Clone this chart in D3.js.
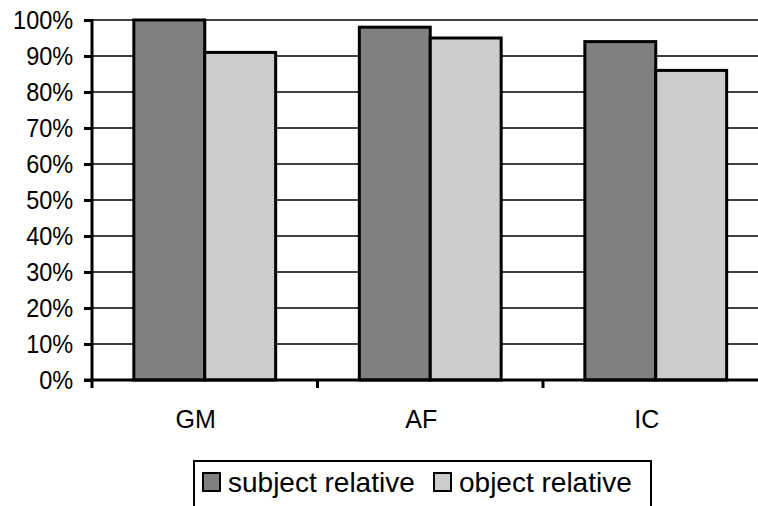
<!DOCTYPE html>
<html>
<head>
<meta charset="UTF-8">
<title>Relative clauses</title>
<script src="https://cdnjs.cloudflare.com/ajax/libs/d3/7.8.5/d3.min.js"></script>
<style>
  body { margin: 0; background: #fff; }
  text { font-family: "Liberation Sans", Arial, sans-serif; fill: #000; }
</style>
</head>
<body>
<svg id="chart" width="758" height="506"></svg>
<script>
// data
var categories = ["GM", "AF", "IC"];
var seriesNames = ["subject relative", "object relative"];
var subjectValues = [100, 98, 94];
var objectValues = [91, 95, 86];
var yTicks = [0, 10, 20, 30, 40, 50, 60, 70, 80, 90, 100];
var colors = ["#808080", "#cccccc"];

var svg = d3.select("#chart");
var plotLeft = 92, plotRight = 768.5, plotTop = 20, plotBottom = 380;

var x0 = d3.scaleBand().domain(categories).range([plotLeft, plotRight]);
var x1 = d3.scaleBand().domain(seriesNames)
        .range([0, x0.bandwidth()])
        .paddingInner(0).paddingOuter(0.59);
var y = d3.scaleLinear().domain([0, 100]).range([plotBottom, plotTop]);

var rows = categories.map(function (c, i) {
    return {cat: c, vals: [subjectValues[i], objectValues[i]]};
});

// gridlines
svg.append("g").selectAll("line")
    .data(yTicks.filter(function (d) { return d > 0; }))
    .enter().append("line")
    .attr("x1", plotLeft).attr("x2", 758)
    .attr("y1", function (d) { return y(d); })
    .attr("y2", function (d) { return y(d); })
    .attr("stroke", "#000").attr("stroke-width", 1.5);

// bars
var groups = svg.append("g").selectAll("g")
    .data(rows).enter().append("g")
    .attr("transform", function (d) { return "translate(" + x0(d.cat) + ",0)"; });

groups.selectAll("rect")
    .data(function (d) {
        return d.vals.map(function (v, i) { return {name: seriesNames[i], v: v, i: i}; });
    })
    .enter().append("rect")
    .attr("x", function (d) { return x1(d.name); })
    .attr("y", function (d) { return y(d.v); })
    .attr("width", x1.bandwidth())
    .attr("height", function (d) { return y(0) - y(d.v); })
    .attr("fill", function (d) { return colors[d.i]; })
    .attr("stroke", "#000").attr("stroke-width", 3);

// y axis
var yAxis = svg.append("g")
    .attr("transform", "translate(" + plotLeft + ",0)")
    .call(d3.axisLeft(y).tickValues(yTicks).tickSize(8).tickPadding(12)
        .tickFormat(function (d) { return d + "%"; }));
yAxis.select(".domain").attr("stroke-width", 3).attr("d", "M0," + (plotTop - 1) + "V" + (plotBottom + 8));
yAxis.selectAll(".tick line").attr("stroke-width", 3);
// glyphs in the picture are a little narrow for their height
yAxis.selectAll("text").attr("font-size", 25).attr("font-family", null)
    .attr("transform", "scale(0.94,1)");

// x axis with ticks on category boundaries
var xAxis = svg.append("g").attr("transform", "translate(0," + plotBottom + ")");
xAxis.append("line")
    .attr("x1", plotLeft - 8).attr("x2", 758)
    .attr("stroke", "#000").attr("stroke-width", 3);
xAxis.selectAll(".btick")
    .data(categories.slice(1))
    .enter().append("line")
    .attr("class", "btick")
    .attr("x1", function (d) { return x0(d); })
    .attr("x2", function (d) { return x0(d); })
    .attr("y1", 0).attr("y2", 8)
    .attr("stroke", "#000").attr("stroke-width", 3);
xAxis.selectAll(".clabel")
    .data(categories)
    .enter().append("text")
    .attr("class", "clabel")
    .attr("x", function (d) { return x0(d) + x0.bandwidth() / 2 - 9; })
    .attr("y", 48)
    .attr("text-anchor", "middle")
    .attr("font-size", 25)
    .text(function (d) { return d; });

// legend
var legend = svg.append("g");
legend.append("rect")
    .attr("x", 194).attr("y", 461)
    .attr("width", 457).attr("height", 60)
    .attr("fill", "#fff").attr("stroke", "#000").attr("stroke-width", 2);

var legendX = [203, 434];
var items = legend.selectAll(".item")
    .data(seriesNames).enter().append("g")
    .attr("class", "item")
    .attr("transform", function (d, i) { return "translate(" + legendX[i] + ",473)"; });
items.append("rect")
    .attr("width", 17).attr("height", 18)
    .attr("fill", function (d, i) { return colors[i]; })
    .attr("stroke", "#000").attr("stroke-width", 2);
items.append("text")
    .attr("x", 25).attr("y", 19)
    .attr("font-size", 28)
    .text(function (d) { return d; });
</script>
</body>
</html>
